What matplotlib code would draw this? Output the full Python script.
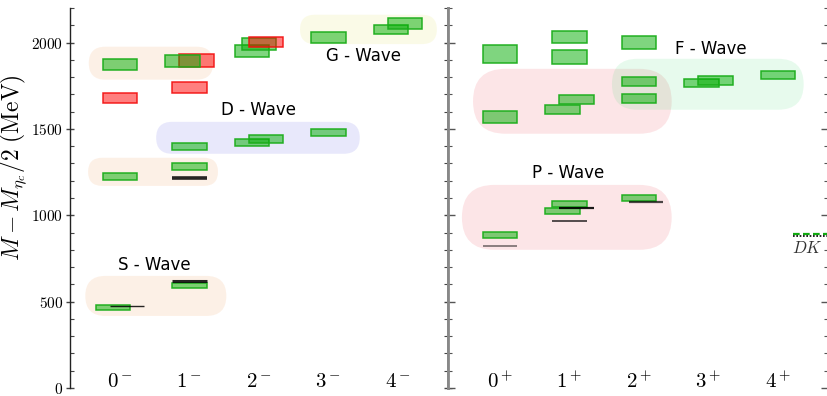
import matplotlib
matplotlib.use("Agg")
import matplotlib.pyplot as plt
from matplotlib.patches import Rectangle, FancyBboxPatch
from matplotlib.ticker import MultipleLocator, FuncFormatter

plt.rcParams["mathtext.fontset"] = "cm"

# ---------------- data ----------------
neg_labels = [r"$0^-$", r"$1^-$", r"$2^-$", r"$3^-$", r"$4^-$"]
pos_labels = [r"$0^+$", r"$1^+$", r"$2^+$", r"$3^+$", r"$4^+$"]

# lattice states (green boxes): channel position, lower and upper mass (MeV)
neg_green_x = [-0.1, 0, 0, 1, 1, 1, 0.9, 1.9, 2.1, 1.9, 2.0, 3, 3, 3.9, 4.1]
neg_green_lo = [452, 1205, 1842, 577, 1265, 1378, 1858, 1403, 1419, 1916, 1958, 1460, 2000, 2047, 2078]
neg_green_hi = [481, 1243, 1906, 610, 1304, 1421, 1925, 1440, 1462, 1985, 2026, 1502, 2060, 2103, 2140]

# exotic states (red boxes)
neg_red_x = [0, 1.1, 1, 2.1]
neg_red_lo = [1648, 1858, 1709, 1972]
neg_red_hi = [1706, 1935, 1771, 2031]
neg_red_top = [False, False, False, True]

# experimental masses (black lines)
neg_exp_x = [0.1, 1, 1]
neg_exp_m = [475, 620, 1218]
neg_exp_w = [1.0, 2.2, 2.6]

pos_green_x = [0, 0, 0, 1, 1, 1.1, 0.9, 1, 0.9, 2, 2, 2, 2, 2.9, 3.1, 4]
pos_green_lo = [1884, 1533, 867, 1997, 1875, 1642, 1587, 1049, 1006, 1964, 1750, 1648, 1084, 1740, 1756, 1787]
pos_green_hi = [1987, 1603, 904, 2068, 1958, 1696, 1637, 1082, 1040, 2039, 1800, 1702, 1118, 1790, 1804, 1835]

pos_exp_x = [0, 1.1, 1, 2.1]
pos_exp_m = [823, 1041, 968, 1078]
pos_exp_w = [1.4, 1.6, 1.1, 1.6]
pos_exp_a = [0.45, 0.9, 0.85, 0.7]

dk_lattice = 890
dk_phys = 878

# wave groupings: x0, x1, y0, y1
neg_bubbles = [(-0.50, 1.53, 417, 649), (-0.46, 1.41, 1170, 1333), (-0.45, 1.34, 1785, 1976),
               (0.52, 3.45, 1356, 1541), (2.59, 4.56, 1991, 2161)]
neg_bubble_colors = ["#eb730f", "#eb730f", "#eb730f", "#2323e1", "#d7d719"]
pos_bubbles = [(-0.39, 2.47, 1472, 1848), (-0.55, 2.47, 800, 1176), (1.61, 4.37, 1611, 1906)]
pos_bubble_colors = ["#eb0519", "#eb0519", "#19d755"]

neg_wave_text = ["S - Wave", "D - Wave", "G - Wave"]
neg_wave_xy = [(0.5, 713), (2.0, 1611), (3.5, 1924)]
pos_wave_text = ["P - Wave", "F - Wave"]
pos_wave_xy = [(0.98, 1246), (3.04, 1964)]

BAR_W = 0.5
GREEN_FACE = (0.0, 0.68, 0.0, 0.5)
GREEN_EDGE = (0.1, 0.68, 0.1, 0.95)
RED_FACE = (1.0, 0.0, 0.0, 0.5)
RED_EDGE = (0.95, 0.05, 0.05, 0.9)

# ---------------- figure ----------------
W, H = 828, 396
fig = plt.figure(figsize=(W / 100, H / 100), dpi=100)
ax1 = fig.add_axes([70 / W, 8 / H, 378 / W, 380 / H])
ax2 = fig.add_axes([448 / W, 8 / H, 380 / W, 380 / H])
ax1.set_xlim(-0.72, 4.72)
ax2.set_xlim(-0.75, 4.72)
for ax in (ax1, ax2):
    ax.set_ylim(0, 2200)
    ax.spines["top"].set_visible(False)
    ax.spines["bottom"].set_visible(False)
    ax.yaxis.set_major_locator(MultipleLocator(500))
    ax.yaxis.set_minor_locator(MultipleLocator(100))


def pill(ax, box, color, alpha=0.1):
    x0, x1, y0, y1 = box
    bb = ax.get_window_extent()
    xr = ax.get_xlim()[1] - ax.get_xlim()[0]
    yr = ax.get_ylim()[1] - ax.get_ylim()[0]
    asp = (yr / bb.height) / (xr / bb.width)
    r = (y1 - y0) / asp / 2
    p = FancyBboxPatch((x0, y0), x1 - x0, y1 - y0,
                       boxstyle=f"round,pad=0,rounding_size={r}",
                       mutation_aspect=asp, facecolor=color, alpha=alpha,
                       edgecolor="none", zorder=0)
    ax.add_patch(p)


def box(ax, x, lo, hi, face, edge, z):
    ax.add_patch(Rectangle((x - BAR_W / 2, lo), BAR_W, hi - lo, facecolor=face,
                           edgecolor=edge, linewidth=1.1, zorder=z))


for b, c in zip(neg_bubbles, neg_bubble_colors):
    pill(ax1, b, c)
for b, c in zip(pos_bubbles, pos_bubble_colors):
    pill(ax2, b, c)

for x, lo, hi, top in zip(neg_red_x, neg_red_lo, neg_red_hi, neg_red_top):
    box(ax1, x, lo, hi, RED_FACE, RED_EDGE, 4 if top else 2)
for x, lo, hi in zip(neg_green_x, neg_green_lo, neg_green_hi):
    box(ax1, x, lo, hi, GREEN_FACE, GREEN_EDGE, 3)
for x, lo, hi in zip(pos_green_x, pos_green_lo, pos_green_hi):
    box(ax2, x, lo, hi, GREEN_FACE, GREEN_EDGE, 3)

for x, m, w in zip(neg_exp_x, neg_exp_m, neg_exp_w):
    ax1.hlines(m, x - BAR_W / 2, x + BAR_W / 2, colors="black", linewidth=w, alpha=0.85, zorder=5)
for x, m, w, a in zip(pos_exp_x, pos_exp_m, pos_exp_w, pos_exp_a):
    ax2.hlines(m, x - BAR_W / 2, x + BAR_W / 2, colors="black", linewidth=w, alpha=a, zorder=5)

# DK threshold
ax2.hlines(dk_lattice, 4.22, 4.72, colors="#11aa11", linestyles=(0, (3, 1.5)), linewidth=1.6, zorder=5)
ax2.hlines(dk_phys, 4.22, 4.72, colors="black", linestyles=(0, (1, 1)), linewidth=1.2, zorder=5)
ax2.text(4.42, 811, r"$DK$", ha="center", va="center", fontsize=12, color="#333333")

for t, (x, y) in zip(neg_wave_text, neg_wave_xy):
    ax1.text(x, y, t, ha="center", va="center", fontsize=12, family="DejaVu Sans", zorder=6)
for t, (x, y) in zip(pos_wave_text, pos_wave_xy):
    ax2.text(x, y, t, ha="center", va="center", fontsize=12, family="DejaVu Sans", zorder=6)

# axes styling
ax1.set_xticks(range(len(neg_labels)))
ax1.set_xticklabels(neg_labels)
ax2.set_xticks(range(len(pos_labels)))
ax2.set_xticklabels(pos_labels)
for ax in (ax1, ax2):
    ax.tick_params(axis="x", length=0, pad=-12, labelsize=15)

ax1.spines["left"].set_color("#222222")
ax1.spines["left"].set_linewidth(1.0)
ax1.spines["right"].set_color("#888888")
ax1.spines["right"].set_linewidth(2.0)
ax2.spines["left"].set_color("#888888")
ax2.spines["left"].set_linewidth(2.0)
ax2.spines["right"].set_color("#888888")
ax2.spines["right"].set_linewidth(2.0)

ax1.tick_params(axis="y", which="major", direction="inout", length=6, width=1.0, pad=2,
                left=True, right=True, color="#444444", labelsize=11)
ax1.tick_params(axis="y", which="minor", direction="in", length=3, width=0.8,
                left=True, right=True, color="#444444")
ax1.yaxis.set_major_formatter(FuncFormatter(lambda v, p: rf"${int(v)}$"))
ax2.tick_params(axis="y", which="major", direction="in", length=5, width=1.0,
                left=True, right=True, labelleft=False, color="#555555")
ax2.tick_params(axis="y", which="minor", direction="in", length=3, width=0.8,
                left=True, right=True, color="#555555")

ax1.set_ylabel(r"$M - M_{\eta_c}/2\ \mathrm{(MeV)}$", fontsize=17)
ax1.yaxis.set_label_coords(-0.108, 0.58)

fig.savefig("out.png", dpi=100)
